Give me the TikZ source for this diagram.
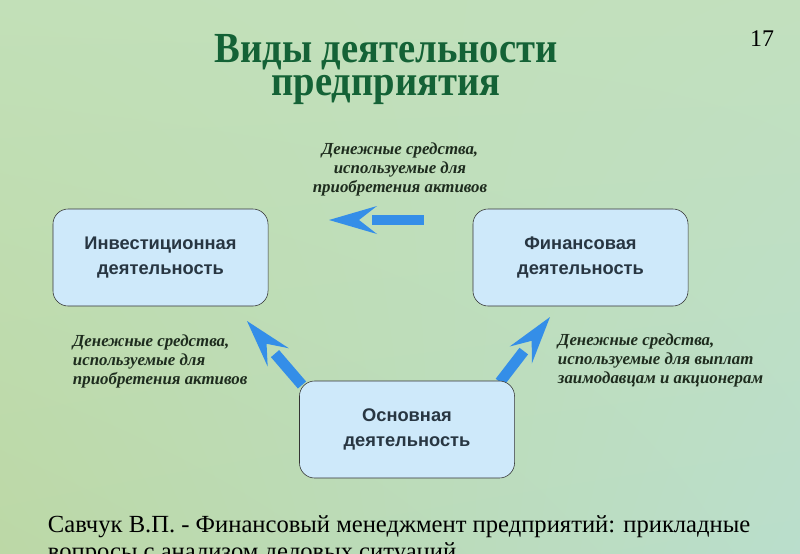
\documentclass[tikz,border=0pt]{standalone}
\usepackage{fontspec}
\setmainfont{Liberation Serif}
\newfontfamily\boxfont{Liberation Sans}
\newfontfamily\titlefont[FakeStretch=0.9]{Liberation Serif}
\usetikzlibrary{calc, shadings}

\definecolor{titlegreen}{RGB}{20,98,54}
\definecolor{flowblue}{RGB}{52,142,232}
\definecolor{boxfill}{RGB}{206,233,250}
\definecolor{boxtext}{RGB}{40,54,66}
\definecolor{labeltext}{RGB}{30,44,30}
\definecolor{bgul}{RGB}{194,224,184}
\definecolor{bgur}{RGB}{194,224,190}
\definecolor{bgll}{RGB}{188,216,166}
\definecolor{bglr}{RGB}{186,222,204}

\tikzset{
  actbox/.style={draw=black!80, fill=boxfill, rounded corners=0.38cm,
    minimum width=5.375cm, minimum height=2.425cm, align=center,
    font=\boxfont\bfseries\fontsize{13}{17.8}\selectfont, text=boxtext},
  flowlabel/.style={font=\bfseries\itshape\fontsize{12}{13.5}\selectfont, text=labeltext},
  flowshaft/.style={draw=flowblue, line width=0.27cm},
  titletext/.style={align=center, anchor=base, font=\titlefont\bfseries\fontsize{30.5}{22.8}\selectfont},
}

% fat arrow: #1 tail, #2 tip
\newcommand{\fatarrow}[2]{%
  \coordinate (#2-back) at ($(#2)!1.2cm!(#1)$);
  \coordinate (#2-notch) at ($(#2)!0.75cm!(#1)$);
  \fill[flowblue] (#2) -- ($(#2-back)!0.35cm!90:(#2)$) -- (#2-notch)
    -- ($(#2-back)!0.35cm!-90:(#2)$) -- cycle;
  \draw[flowshaft] ($(#2)!1.075cm!(#1)$) -- (#1);
}

\begin{document}
\begin{tikzpicture}[x=0.025cm, y=-0.025cm]
% Background
\useasboundingbox (0,0) rectangle (800,553);
\begin{scope}
\clip (0,0) rectangle (800,553);
\shade[upper left=bgul, upper right=bgur, lower left=bgll, lower right=bglr]
  (0,0) rectangle (800,553);

% Title
\node[titletext, text=titlegreen] (title) at (386,95) {Виды деятельности\\предприятия};
\node[font=\fontsize{17}{20}\selectfont] (pagenum) at (762,39) {17};

% Boxes
\coordinate (tipT) at (329,220);
\coordinate (tailT) at (424,220);
\coordinate (tipL) at (247,321);
\coordinate (tailL) at (302,385);
\coordinate (tipR) at (550,317);
\coordinate (tailR) at (500,382);
\node[actbox] (inv) at (160.5,257.5) {Инвестиционная\\деятельность};
\node[actbox] (fin) at (580.5,257.5) {Финансовая\\деятельность};
\fatarrow{tailT}{tipT}
\fatarrow{tailL}{tipL}
\fatarrow{tailR}{tipR}
\node[actbox] (osn) at (407,429.5) {Основная\\деятельность};

% Labels
\node[flowlabel, align=center] (lblT) at (400,169) {Денежные средства,\\используемые для\\приобретения активов};
\node[flowlabel, align=left, anchor=west] (lblL) at (68,361) {Денежные средства,\\используемые для\\приобретения активов};
\node[flowlabel, align=left, anchor=west] (lblR) at (553,360) {Денежные средства,\\используемые для выплат\\заимодавцам и акционерам};

% Source
\node[anchor=base west, align=left, font=\fontsize{17.5}{18.6}\selectfont] (src) at (43,559)
  {Савчук В.П. - Финансовый менеджмент предприятий: прикладные\\вопросы с анализом деловых ситуаций};
\end{scope}
\end{tikzpicture}
\end{document}
